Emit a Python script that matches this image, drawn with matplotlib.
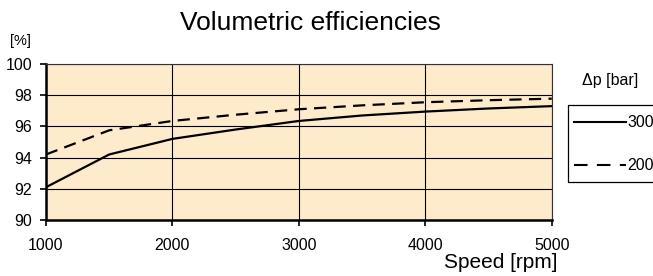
import matplotlib.pyplot as plt
from matplotlib.lines import Line2D
from matplotlib.patches import Rectangle

speed = [1000, 1500, 2000, 2500, 3000, 3500, 4000, 4500, 5000]
eff_300 = [92.1, 94.2, 95.2, 95.8, 96.35, 96.7, 96.95, 97.15, 97.3]
eff_200 = [94.2, 95.75, 96.35, 96.75, 97.1, 97.35, 97.55, 97.68, 97.78]
labels = ["300", "200"]

plt.rcParams["font.family"] = ["Liberation Sans", "DejaVu Sans"]

fig = plt.figure(figsize=(6.53, 2.76), dpi=100)
fig.patch.set_facecolor("white")
ax = fig.add_axes([0.0704, 0.203, 0.7746, 0.565])
ax.set_facecolor("#fdebcc")

ax.plot(speed, eff_300, color="black", linewidth=1.6)
ax.plot(speed, eff_200, color="black", linewidth=1.6, linestyle=(0, (5.5, 3.3)))

ax.set_xlim(1000, 5000)
ax.set_ylim(90, 100)
ax.set_xticks([1000, 2000, 3000, 4000, 5000])
ax.set_yticks([90, 92, 94, 96, 98, 100])
ax.grid(True, color="black", linewidth=0.8)
ax.set_axisbelow(True)

for s in ["top", "right"]:
    ax.spines[s].set_color("#333333")
    ax.spines[s].set_linewidth(0.8)
ax.spines["bottom"].set_linewidth(1.8)
ax.spines["left"].set_linewidth(1.8)
ax.tick_params(axis="both", direction="out", width=1.2, labelsize=11.5)
ax.tick_params(axis="x", length=4, pad=9)
ax.tick_params(axis="y", length=4.5, pad=5.5)

fig.text(0.476, 0.915, "Volumetric efficiencies", fontsize=19, ha="center", va="center")
fig.text(0.016, 0.852, "[%]", fontsize=10.5, ha="left", va="center")
fig.text(0.853, 0.05, "Speed [rpm]", fontsize=15, ha="right", va="center")
fig.text(0.891, 0.71, "\u0394p [bar]", fontsize=11.5, ha="left", va="center")

# legend box (extends past the right edge, as in the original)
fig.patches.append(Rectangle((0.870, 0.341), 0.2, 0.279, transform=fig.transFigure,
                             facecolor="white", edgecolor="black", linewidth=0.9))

h1 = Line2D([], [], color="black", linewidth=1.5)
h2 = Line2D([], [], color="black", linewidth=1.5, linestyle=(0, (6.5, 4.5)))
fig.legend(handles=[h1, h2], labels=labels, loc="upper left", bbox_to_anchor=(0.87, 0.602),
           frameon=False, fontsize=11.5,
           handlelength=3.25, handletextpad=0.12, labelspacing=1.75,
           borderpad=0.35, borderaxespad=0)

plt.savefig("out.png", dpi=100)
